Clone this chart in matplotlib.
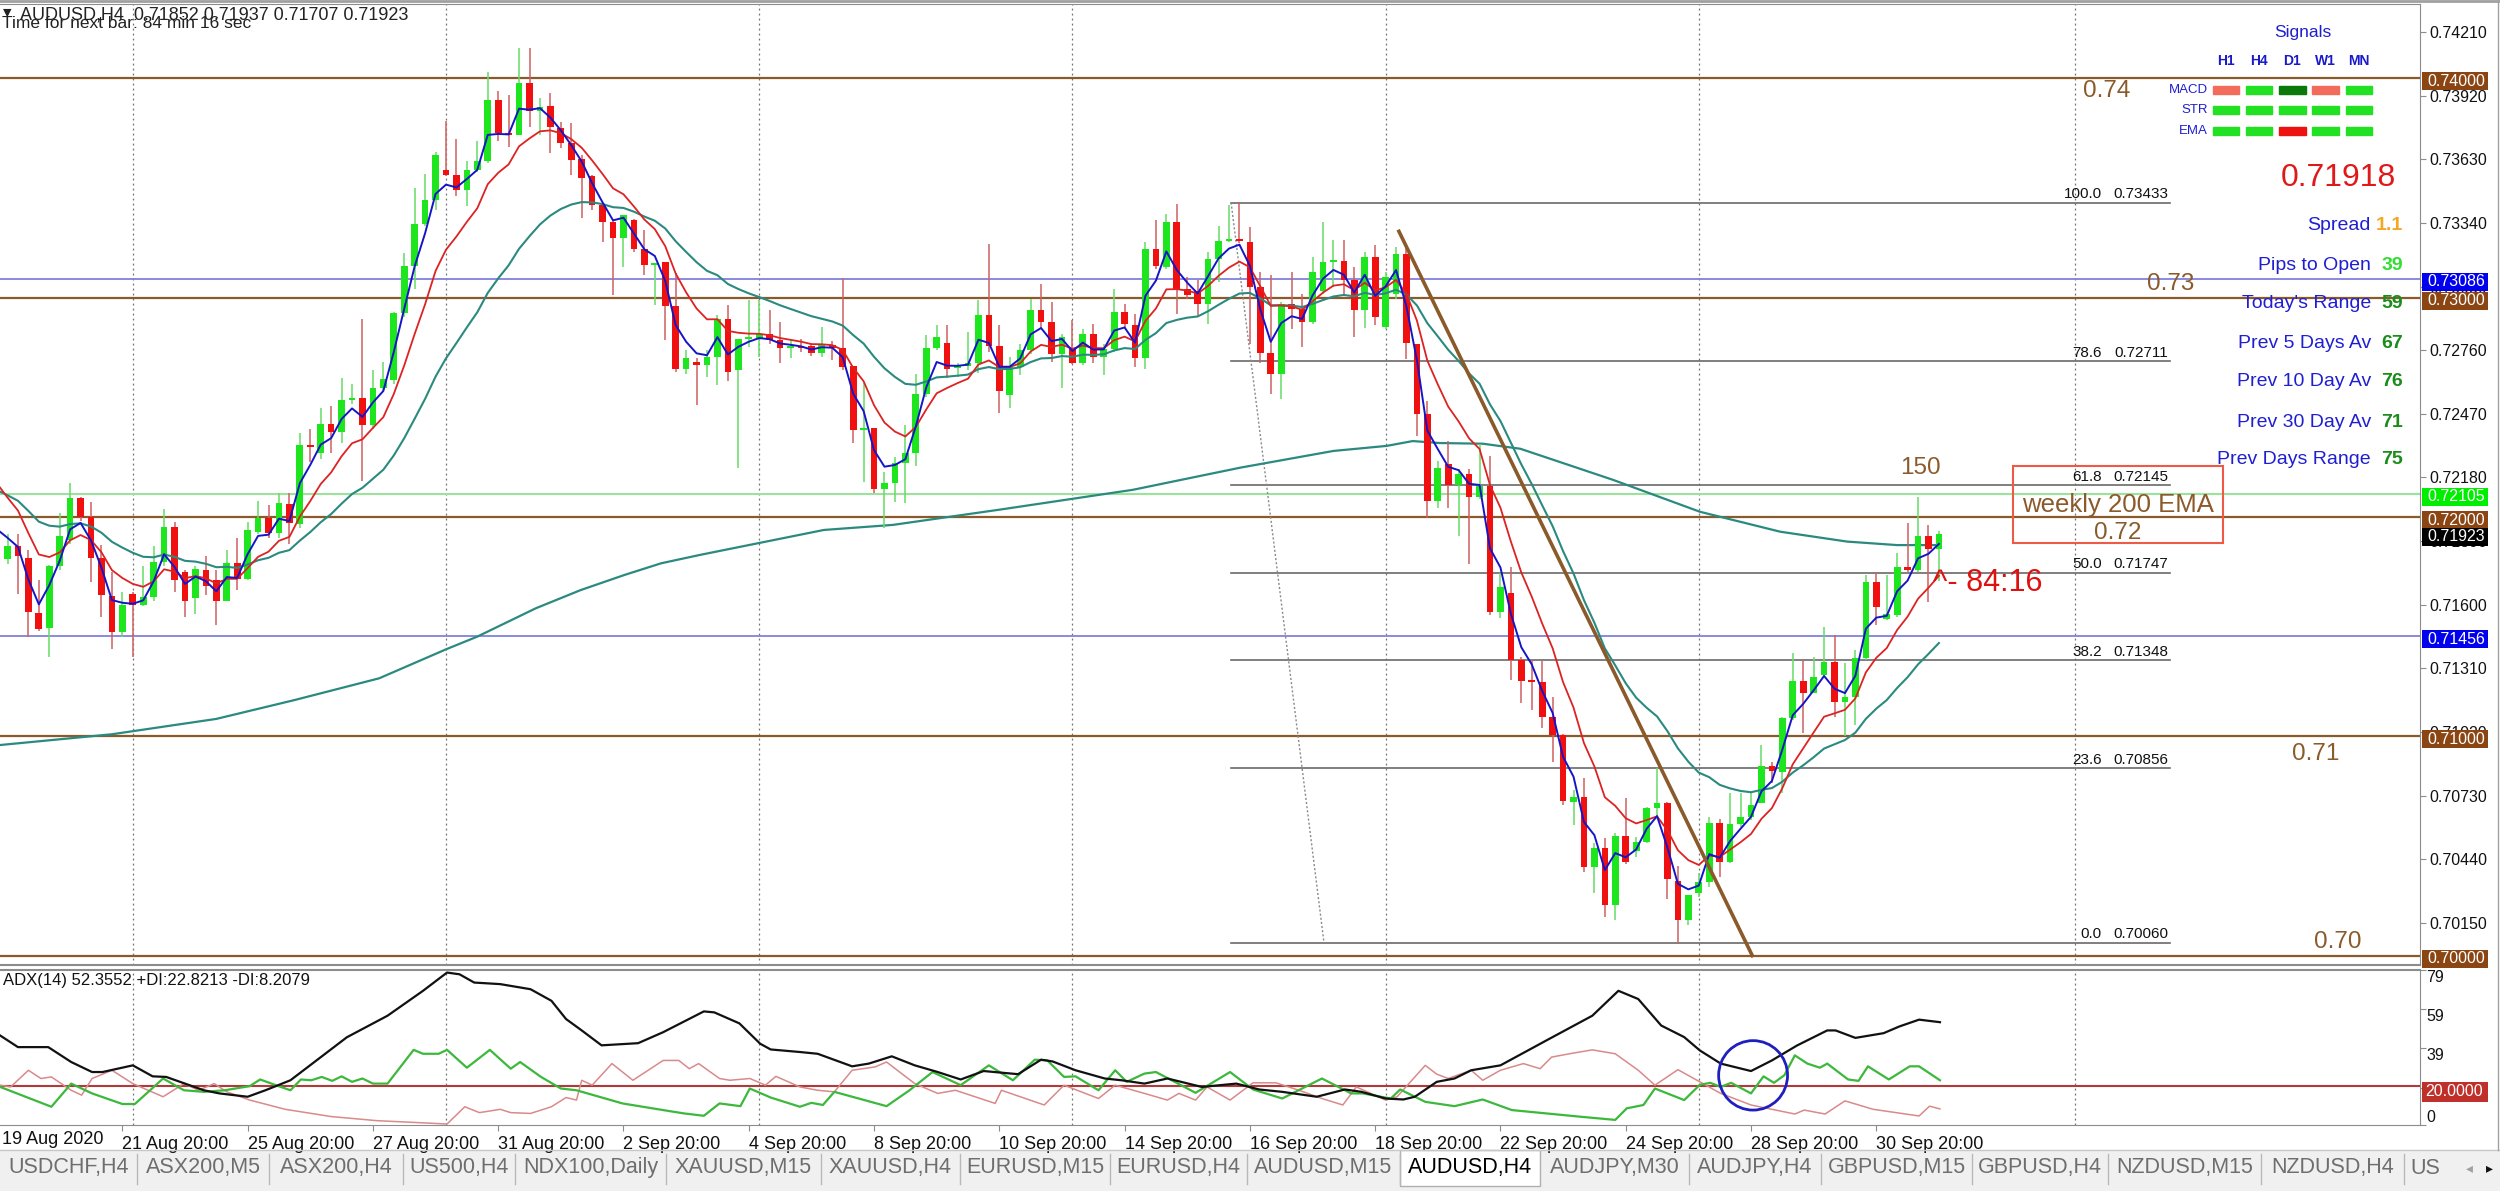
import matplotlib
matplotlib.use('Agg')
import matplotlib.pyplot as plt
from matplotlib.patches import Rectangle, Ellipse
from matplotlib.transforms import blended_transform_factory
from matplotlib import font_manager as fm
import numpy as np

# ---------------- data ----------------
# H4 bars, first one is the partial bar at the left edge (bar index -1)
opens = [0.72290, 0.71809, 0.71867, 0.71813, 0.71561, 0.71492, 0.71777, 0.71894, 0.72087, 0.72002,
         0.71813, 0.71642, 0.71474, 0.71651, 0.71600, 0.71636, 0.71795, 0.71953, 0.71750, 0.71629,
         0.71759, 0.71714, 0.71618, 0.71791, 0.71719, 0.71930, 0.71997, 0.71925, 0.72061, 0.71966,
         0.72326, 0.72290, 0.72422, 0.72389, 0.72534, 0.72543, 0.72417, 0.72588, 0.72624, 0.72930,
         0.73146, 0.73336, 0.73444, 0.73583, 0.73557, 0.73489, 0.73579, 0.73624, 0.73900, 0.73750,
         0.73741, 0.73978, 0.73851, 0.73872, 0.73772, 0.73704, 0.73631, 0.73554, 0.73422, 0.73346,
         0.73270, 0.73354, 0.73220, 0.73148, 0.73164, 0.72962, 0.72673, 0.72705, 0.72693, 0.72728,
         0.72902, 0.72670, 0.72810, 0.72810, 0.72832, 0.72805, 0.72771, 0.72780, 0.72780, 0.72749,
         0.72784, 0.72769, 0.72690, 0.72396, 0.72404, 0.72126, 0.72154, 0.72245, 0.72290, 0.72561,
         0.72769, 0.72792, 0.72678, 0.72688, 0.72700, 0.72921, 0.72779, 0.72556, 0.72685, 0.72760,
         0.72942, 0.72890, 0.72742, 0.72769, 0.72701, 0.72833, 0.72731, 0.72765, 0.72935, 0.72874,
         0.72724, 0.73223, 0.73139, 0.73343, 0.73041, 0.73032, 0.72969, 0.73177, 0.73259, 0.73268,
         0.73252, 0.73048, 0.72747, 0.72651, 0.72969, 0.72946, 0.72890, 0.73032, 0.73162, 0.73166,
         0.73082, 0.72942, 0.73184, 0.72867, 0.73014, 0.73200, 0.72787, 0.72470, 0.72073, 0.72243,
         0.72148, 0.72198, 0.72089, 0.72141, 0.71568, 0.71652, 0.71348, 0.71254, 0.71250, 0.71087,
         0.71007, 0.70703, 0.70726, 0.70404, 0.70490, 0.70232, 0.70546, 0.70480, 0.70521, 0.70673,
         0.70695, 0.70343, 0.70164, 0.70288, 0.70338, 0.70607, 0.70430, 0.70601, 0.70635, 0.70699,
         0.70866, 0.70840, 0.71083, 0.71254, 0.71200, 0.71280, 0.71341, 0.71159, 0.71178, 0.71356,
         0.71705, 0.71534, 0.71553, 0.71774, 0.71759, 0.71913, 0.71852]
highs = [0.72300, 0.71921, 0.71921, 0.71849, 0.71714, 0.71780, 0.72020, 0.72155, 0.72090, 0.72069,
         0.71871, 0.71750, 0.71660, 0.71660, 0.71777, 0.71867, 0.72038, 0.71979, 0.71760, 0.71777,
         0.71822, 0.71759, 0.71849, 0.71906, 0.71979, 0.72074, 0.72056, 0.72110, 0.72110, 0.72381,
         0.72399, 0.72498, 0.72507, 0.72633, 0.72606, 0.72903, 0.72669, 0.72705, 0.72935, 0.73201,
         0.73498, 0.73561, 0.73665, 0.73804, 0.73723, 0.73624, 0.73714, 0.74029, 0.73939, 0.73921,
         0.74137, 0.74137, 0.73909, 0.73932, 0.73800, 0.73795, 0.73650, 0.73560, 0.73430, 0.73350,
         0.73376, 0.73360, 0.73308, 0.73159, 0.73164, 0.73110, 0.72761, 0.72723, 0.72761, 0.72920,
         0.72966, 0.72810, 0.72989, 0.72989, 0.72944, 0.72890, 0.72805, 0.72810, 0.72790, 0.72867,
         0.72800, 0.73088, 0.72690, 0.72609, 0.72404, 0.72207, 0.72275, 0.72419, 0.72652, 0.72830,
         0.72875, 0.72875, 0.72700, 0.72845, 0.72989, 0.73244, 0.72875, 0.72731, 0.72787, 0.72992,
         0.73060, 0.72981, 0.72833, 0.72896, 0.72855, 0.72878, 0.72790, 0.73037, 0.72969, 0.72924,
         0.73252, 0.73354, 0.73381, 0.73427, 0.73094, 0.73082, 0.73207, 0.73327, 0.73420, 0.73433,
         0.73320, 0.73116, 0.73105, 0.72981, 0.73116, 0.73014, 0.73184, 0.73343, 0.73264, 0.73264,
         0.73139, 0.73207, 0.73241, 0.73116, 0.73230, 0.73241, 0.72790, 0.72527, 0.72255, 0.72345,
         0.72220, 0.72220, 0.72334, 0.72277, 0.71743, 0.71774, 0.71364, 0.71348, 0.71348, 0.71181,
         0.71010, 0.70756, 0.70809, 0.70513, 0.70536, 0.70559, 0.70718, 0.70540, 0.70680, 0.70855,
         0.70703, 0.70410, 0.70278, 0.70376, 0.70635, 0.70622, 0.70741, 0.70741, 0.70741, 0.70961,
         0.70885, 0.71090, 0.71379, 0.71348, 0.71364, 0.71500, 0.71462, 0.71333, 0.71394, 0.71736,
         0.71751, 0.71736, 0.71835, 0.71971, 0.72093, 0.71963, 0.71937]
lows = [0.71780, 0.71786, 0.71651, 0.71452, 0.71480, 0.71362, 0.71759, 0.71876, 0.71984, 0.71705,
        0.71543, 0.71398, 0.71453, 0.71362, 0.71593, 0.71615, 0.71777, 0.71660, 0.71543, 0.71557,
        0.71645, 0.71507, 0.71615, 0.71669, 0.71714, 0.71921, 0.71903, 0.71903, 0.71876, 0.71948,
        0.72249, 0.72263, 0.72290, 0.72335, 0.72516, 0.72164, 0.72399, 0.72570, 0.72606, 0.72912,
        0.73038, 0.73327, 0.73399, 0.73552, 0.73462, 0.73417, 0.73570, 0.73615, 0.73714, 0.73687,
        0.73741, 0.73777, 0.73741, 0.73659, 0.73680, 0.73560, 0.73361, 0.73399, 0.73255, 0.73012,
        0.73141, 0.73209, 0.73103, 0.72966, 0.72807, 0.72662, 0.72652, 0.72510, 0.72640, 0.72602,
        0.72621, 0.72222, 0.72776, 0.72731, 0.72787, 0.72700, 0.72723, 0.72750, 0.72735, 0.72731,
        0.72716, 0.72670, 0.72336, 0.72161, 0.72108, 0.71950, 0.72070, 0.72062, 0.72233, 0.72548,
        0.72761, 0.72632, 0.72640, 0.72670, 0.72655, 0.72754, 0.72472, 0.72497, 0.72647, 0.72742,
        0.72855, 0.72708, 0.72588, 0.72697, 0.72692, 0.72701, 0.72647, 0.72753, 0.72855, 0.72685,
        0.72674, 0.73128, 0.73128, 0.72923, 0.72992, 0.72912, 0.72878, 0.73071, 0.73252, 0.73250,
        0.72787, 0.72701, 0.72561, 0.72538, 0.72855, 0.72776, 0.72878, 0.73014, 0.73050, 0.73014,
        0.72821, 0.72860, 0.72874, 0.72855, 0.72992, 0.72720, 0.72368, 0.71994, 0.72040, 0.72040,
        0.71915, 0.71785, 0.72080, 0.71552, 0.71541, 0.71257, 0.71154, 0.71121, 0.71037, 0.70885,
        0.70688, 0.70597, 0.70384, 0.70285, 0.70179, 0.70164, 0.70420, 0.70450, 0.70513, 0.70635,
        0.70258, 0.70060, 0.70141, 0.70270, 0.70316, 0.70361, 0.70422, 0.70589, 0.70619, 0.70695,
        0.70787, 0.70741, 0.71076, 0.71014, 0.71197, 0.71272, 0.71090, 0.71000, 0.71052, 0.71348,
        0.71508, 0.71530, 0.71546, 0.71751, 0.71751, 0.71614, 0.71707]
closes = [0.71795, 0.71867, 0.71822, 0.71566, 0.71489, 0.71777, 0.71912, 0.72087, 0.72002, 0.71813,
          0.71645, 0.71474, 0.71597, 0.71600, 0.71636, 0.71795, 0.71953, 0.71714, 0.71618, 0.71762,
          0.71687, 0.71615, 0.71791, 0.71719, 0.71939, 0.71997, 0.71925, 0.72065, 0.71971, 0.72326,
          0.72321, 0.72422, 0.72389, 0.72534, 0.72543, 0.72417, 0.72588, 0.72627, 0.72930, 0.73146,
          0.73336, 0.73444, 0.73651, 0.73557, 0.73489, 0.73579, 0.73624, 0.73900, 0.73750, 0.73741,
          0.73978, 0.73851, 0.73870, 0.73777, 0.73704, 0.73627, 0.73545, 0.73422, 0.73346, 0.73270,
          0.73376, 0.73220, 0.73148, 0.73159, 0.72962, 0.72673, 0.72723, 0.72693, 0.72728, 0.72902,
          0.72662, 0.72810, 0.72822, 0.72832, 0.72805, 0.72771, 0.72779, 0.72770, 0.72749, 0.72784,
          0.72769, 0.72685, 0.72396, 0.72404, 0.72126, 0.72154, 0.72245, 0.72290, 0.72561, 0.72769,
          0.72822, 0.72673, 0.72688, 0.72700, 0.72921, 0.72779, 0.72576, 0.72685, 0.72760, 0.72942,
          0.72890, 0.72742, 0.72821, 0.72701, 0.72833, 0.72731, 0.72765, 0.72935, 0.72878, 0.72724,
          0.73223, 0.73146, 0.73343, 0.73041, 0.73010, 0.72969, 0.73177, 0.73259, 0.73268, 0.73259,
          0.73048, 0.72747, 0.72651, 0.72969, 0.72946, 0.72890, 0.73116, 0.73162, 0.73166, 0.73082,
          0.72942, 0.73184, 0.72912, 0.73094, 0.73200, 0.72792, 0.72470, 0.72073, 0.72225, 0.72148,
          0.72198, 0.72089, 0.72141, 0.71568, 0.71683, 0.71348, 0.71254, 0.71250, 0.71087, 0.71007,
          0.70707, 0.70726, 0.70404, 0.70490, 0.70232, 0.70546, 0.70430, 0.70521, 0.70673, 0.70695,
          0.70349, 0.70164, 0.70278, 0.70338, 0.70607, 0.70430, 0.70601, 0.70635, 0.70688, 0.70866,
          0.70844, 0.71083, 0.71254, 0.71200, 0.71272, 0.71341, 0.71159, 0.71178, 0.71356, 0.71705,
          0.71592, 0.71558, 0.71774, 0.71759, 0.71913, 0.71853, 0.71923]

# slow (200) moving average, read as points: bar index / price
ma200_bars = [-0.7, 10, 20, 27.5, 35.6, 42.0, 45.0, 50.6, 54.9, 59.1, 62.6, 66.3, 78.2, 84.8, 95.1,
              107.8, 118.1, 127.0, 132.1, 134.6, 137.2, 141.3, 144.9, 148.1, 153.8, 162.1, 169.8,
              176.2, 181.0, 185.0]
ma200_vals = [0.70961, 0.71010, 0.71080, 0.71166, 0.71265, 0.71397, 0.71455, 0.71584, 0.71667,
              0.71736, 0.71789, 0.71827, 0.71941, 0.71964, 0.72034, 0.72124, 0.72225, 0.72301,
              0.72324, 0.72346, 0.72337, 0.72334, 0.72311, 0.72260, 0.72169, 0.72024, 0.71933,
              0.71888, 0.71872, 0.71872]

# ADX(14) panel, read as points
adx_bars = [-0.7, 1.0, 3.9, 6.1, 8.1, 9.1, 12.0, 13.9, 15.2, 18.8, 20.3, 23.0, 24.7, 27.1, 32.5,
            36.4, 39.8, 42.1, 43.3, 44.7, 47.2, 50.1, 52.1, 53.5, 55.0, 56.9, 60.4, 62.8, 66.7,
            67.7, 70.1, 72.1, 73.1, 75.9, 77.6, 80.9, 82.5, 84.7, 86.9, 89.1, 91.3, 93.5, 96.8,
            99.0, 100.1, 102.3, 105.1, 106.7, 108.9, 111.1, 114.4, 117.7, 119.9, 122.1, 125.4,
            128.1, 129.7, 132.0, 133.7, 134.8, 136.9, 138.6, 140.2, 143.0, 147.4, 151.8, 154.3,
            156.2, 158.4, 160.6, 162.1, 164.1, 167.0, 169.0, 171.4, 174.3, 175.1, 177.0, 179.7,
            181.2, 183.1, 185.1]
adx_vals = [45.6, 39.7, 39.7, 32.1, 27.0, 27.0, 30.4, 24.8, 24.5, 17.7, 16.1, 14.4, 17.7, 22.8, 44.7,
            55.7, 68.4, 77.7, 76.8, 72.6, 71.8, 69.2, 63.3, 54.0, 48.2, 40.6, 41.7, 47.3, 57.9,
            57.4, 51.8, 41.4, 38.5, 37.2, 36.3, 29.9, 31.3, 35.0, 30.4, 27.0, 23.2, 27.5, 25.9,
            33.3, 32.4, 27.9, 23.7, 22.8, 21.1, 23.7, 19.4, 21.1, 18.1, 16.9, 14.4,
            18.1, 16.9, 13.5, 13.0, 14.4, 22.0, 23.7, 27.9, 30.4, 43.1, 55.7, 68.4,
            64.2, 50.7, 44.8, 38.0, 31.3, 27.5, 32.9, 40.5, 48.2, 48.2, 44.4, 46.8,
            50.2, 53.7, 52.4]
pdi_bars = [-0.7, 4.2, 6.1, 8.1, 11.0, 12.2, 14.9, 16.9, 18.8, 20.8, 23.2, 24.2, 25.7, 27.1, 28.1,
            29.1, 30.1, 31.1, 32.0, 33.0, 34.0, 35.0, 36.4, 38.9, 39.8, 41.3, 42.1, 44.0, 46.2,
            48.2, 49.1, 51.1, 53.0, 54.5, 58.9, 62.8, 64.8, 66.7, 68.2, 70.2, 71.1, 73.1, 75.9,
            77.0, 78.1, 79.2, 84.2, 86.4, 88.6, 91.3, 94.0, 96.3, 98.4, 99.6, 101.2, 102.3, 104.5,
            106.1, 107.2, 108.9, 110.0, 113.8, 117.1, 119.3, 122.1, 125.9, 128.7, 129.8, 132.5,
            133.4, 135.8, 138.6, 141.3, 144.1, 147.4, 150.7, 154.0, 155.1, 156.7, 157.8, 160.6,
            162.1, 163.1, 164.1, 165.1, 167.0, 168.2, 169.2, 170.2, 171.2, 172.4, 173.6, 174.3,
            176.3, 177.3, 178.2, 180.2, 182.2, 183.1, 185.1]
pdi_vals = [19.4, 9.3, 21.1, 16.1, 10.7, 10.7, 23.7, 17.7, 16.9, 17.7, 19.8, 23.2, 20.3, 17.7, 23.2,
            22.8, 24.5, 22.5, 24.8, 22.0, 23.7, 21.1, 21.1, 38.3, 36.3, 36.3, 38.3, 29.2, 38.3,
            28.7, 32.1, 24.5, 18.6, 17.7, 11.0, 7.6, 5.9, 4.7, 11.0, 9.6, 18.6, 14.0, 9.3,
            11.3, 10.2, 16.9, 9.6, 17.7, 27.0, 20.3, 30.4, 22.8, 33.3, 32.9, 24.5, 24.8, 17.7,
            27.9, 22.0, 26.2, 27.0, 16.4, 27.0, 18.1, 13.5, 23.7, 16.1, 16.1, 13.5,
            18.1, 11.8, 9.6, 13.0, 7.6, 5.9, 4.2, 2.6, 8.5, 10.2, 18.6, 12.7,
            20.5, 21.5, 19.4, 21.5, 16.1, 24.8, 21.5, 25.4, 35.5, 31.3, 29.2, 31.3,
            23.2, 22.5, 29.9, 23.2, 29.9, 29.9, 22.8]
mdi_bars = [-0.7, 0.3, 2.0, 3.2, 4.2, 6.1, 7.1, 8.1, 10.0, 12.0, 14.9, 16.9, 18.3, 19.8, 21.0, 23.2,
            26.6, 31.0, 35.4, 39.4, 42.1, 43.8, 45.2, 47.2, 48.2, 50.1, 52.1, 53.5, 54.5, 55.0,
            56.0, 57.9, 59.9, 62.8, 64.3, 65.3, 66.2, 68.2, 69.2, 71.1, 72.6, 73.6, 75.9, 77.6,
            79.2, 80.9, 83.1, 84.2, 86.9, 89.1, 90.8, 94.6, 95.2, 99.3, 101.2, 104.5, 106.1, 108.9,
            111.1, 112.2, 113.8, 114.9, 117.1, 119.3, 121.5, 123.7, 125.9, 127.9, 129.2, 132.0,
            133.1, 135.8, 136.9, 138.0, 140.2, 141.3, 143.0, 145.2, 146.8, 147.9, 149.6, 151.8,
            154.0, 156.2, 157.8, 160.0, 162.1, 164.1, 167.0, 169.0, 171.2, 172.1, 174.1, 176.0,
            178.7, 183.1, 184.1, 185.1]
mdi_vals = [20.3, 19.4, 27.9, 23.7, 24.5, 17.7, 15.2, 23.7, 27.9, 21.1, 14.4, 21.1, 17.7, 21.1, 16.9, 12.7,
            8.0, 4.3, 2.2, 1.2, 0.5, 9.3, 6.3, 8.0, 6.3, 5.9, 9.3, 14.0, 12.7, 22.8,
            20.3, 31.3, 22.8, 32.9, 32.9, 28.7, 31.3, 23.7, 22.8, 23.7, 20.3, 24.8, 19.4, 17.7,
            16.9, 27.9, 29.6, 32.1, 21.1, 16.1, 17.7, 11.0, 17.7, 10.2, 20.3, 13.5, 20.3, 16.1,
            12.7, 16.1, 12.7, 19.4, 12.7, 21.5, 21.5, 17.7, 13.5, 10.2, 19.4, 12.7,
            14.4, 30.4, 25.9, 23.7, 27.9, 22.8, 27.9, 31.3, 28.7, 34.6, 36.3, 38.3,
            36.3, 27.9, 20.3, 28.2, 22.0, 16.1, 10.2, 8.0, 5.6, 7.6, 5.6, 12.3,
            8.0, 4.6, 9.6, 8.2]

price_ticks = [0.74210, 0.73920, 0.73630, 0.73340, 0.73050, 0.72760, 0.72470, 0.72180,
               0.71890, 0.71600, 0.71310, 0.71020, 0.70730, 0.70440, 0.70150]
round_levels = [0.74, 0.73, 0.72, 0.71, 0.70]
blue_levels = [0.73086, 0.71456]
ema_level = 0.72105
fib_pcts = ['100.0', '78.6', '61.8', '50.0', '38.2', '23.6', '0.0']
fib_prices = [0.73433, 0.72711, 0.72145, 0.71747, 0.71348, 0.70856, 0.70060]
fib_span = [117.2, 207.1]
fib_base = ([117.2, 126.1], [0.73433, 0.70060])
trend_line = ([133.2, 167.2], [0.73309, 0.69994])
week_starts = [12, 42, 72, 102, 132, 162, 198]
date_bars = [11, 23, 35, 47, 59, 71, 83, 95, 107, 119, 131, 143, 155, 167, 179]
date_labels = ['21 Aug 20:00', '25 Aug 20:00', '27 Aug 20:00', '31 Aug 20:00', '2 Sep 20:00',
               '4 Sep 20:00', '8 Sep 20:00', '10 Sep 20:00', '14 Sep 20:00', '16 Sep 20:00',
               '18 Sep 20:00', '22 Sep 20:00', '24 Sep 20:00', '28 Sep 20:00', '30 Sep 20:00']
adx_ticks = [79, 59, 39, 19, 0]
adx_level = 20
tabs = ['USDCHF,H4', 'ASX200,M5', 'ASX200,H4', 'US500,H4', 'NDX100,Daily', 'XAUUSD,M15',
        'XAUUSD,H4', 'EURUSD,M15', 'EURUSD,H4', 'AUDUSD,M15', 'AUDUSD,H4', 'AUDJPY,M30',
        'AUDJPY,H4', 'GBPUSD,M15', 'GBPUSD,H4', 'NZDUSD,M15', 'NZDUSD,H4']
tab_edges = [0, 137, 269, 403, 515, 666, 821, 960, 1110, 1247, 1400, 1540, 1689, 1821, 1972,
             2108, 2261, 2404]
active_tab = 'AUDUSD,H4'
signal_rows = ['MACD', 'STR', 'EMA']
signal_cols = ['H1', 'H4', 'D1', 'W1', 'MN']
signal_colors = [['#f26b5b', '#22e022', '#0b7a0b', '#f26b5b', '#22e022'],
                 ['#22e022'] * 5,
                 ['#22e022', '#22e022', '#ee1111', '#22e022', '#22e022']]
stats = [('Spread', '1.1', '#f5a623'), ('Pips to Open', '39', '#33dd33'),
         ("Today's Range", '59', '#1a8c1a'), ('Prev 5 Days Av', '67', '#1a8c1a'),
         ('Prev 10 Day Av', '76', '#1a8c1a'), ('Prev 30 Day Av', '71', '#1a8c1a'),
         ('Prev Days Range', '75', '#1a8c1a')]

# ---------------- figure ----------------
names = {f.name for f in fm.fontManager.ttflist}
NARROW = 'Liberation Sans Narrow' if 'Liberation Sans Narrow' in names else 'Liberation Sans'
plt.rcParams['font.family'] = ['Liberation Sans', 'DejaVu Sans']

W, H = 2500, 1191
fig = plt.figure(figsize=(25, 11.91), dpi=100)


def fx(x):
    return x / W


def fy(y):
    return 1 - y / H


def T(x, y, s, **kw):
    kw.setdefault('va', 'center')
    return fig.text(fx(x), fy(y), s, **kw)


RIGHT = 2420
ax = fig.add_axes([0, fy(965), RIGHT / W, (965 - 4) / H])
ax2 = fig.add_axes([0, fy(1125), RIGHT / W, (1125 - 970) / H])

xmin, xmax = -0.72, 231.08
ax.set_xlim(xmin, xmax)
ax2.set_xlim(xmin, xmax)
ax.set_ylim(0.699586, 0.743376)
ax2.set_ylim(0, 78.5)

o = np.array(opens)
h = np.array(highs)
l = np.array(lows)
c = np.array(closes)
x = np.arange(len(c)) - 1
up = c >= o
dn = ~up

# week separators (dotted) in both panels
for a in (ax, ax2):
    for k in week_starts:
        a.axvline(k, color='#707070', lw=0.9, ls=(0, (1.5, 2.5)), zorder=1)

# horizontal levels
for p in round_levels:
    ax.axhline(p, color='#8b5a2b', lw=1.6, zorder=1)
for p in blue_levels:
    ax.axhline(p, color='#8080dd', lw=1.3, zorder=1)
ax.axhline(ema_level, color='#9be39b', lw=1.5, zorder=1)

# fibonacci
for pct, p in zip(fib_pcts, fib_prices):
    ax.plot(fib_span, [p, p], color='#6a6a6a', lw=1.2, zorder=1.5)
    ax.annotate(f'{p:.5f}', xy=(fib_span[1], p), xytext=(-1, 1), textcoords='offset points',
                ha='right', va='bottom', fontsize=11, color='#111111')
    ax.annotate(pct, xy=(fib_span[1], p), xytext=(-49, 1), textcoords='offset points',
                ha='right', va='bottom', fontsize=11, color='#111111')
ax.plot(*fib_base, color='#8a8a8a', lw=1.0, ls=(0, (1.5, 1.5)), zorder=1.5)

# slow MA
ax.plot(ma200_bars, ma200_vals, color='#2b8a80', lw=1.6, zorder=2)

# candles
ax.vlines(x[up], l[up], h[up], color='#66dd66', lw=1.1, zorder=3)
ax.vlines(x[dn], l[dn], h[dn], color='#d06060', lw=1.1, zorder=3)
mind = 0.00007
ax.bar(x[up], np.maximum(c[up] - o[up], mind), bottom=o[up], width=0.64, color='#1ee61e',
       linewidth=0, zorder=3.2)
ax.bar(x[dn], np.maximum(o[dn] - c[dn], mind), bottom=c[dn], width=0.64, color='#f01010',
       linewidth=0, zorder=3.2)


def ema(vals, span, seed):
    a = 2.0 / (span + 1)
    out, prev = [], seed
    for v in vals:
        prev = prev + a * (v - prev)
        out.append(prev)
    return out


ax.plot(x, ema(closes, 21, 0.72155), color='#2b8a80', lw=1.5, zorder=3.5)
ax.plot(x, ema(closes, 8, 0.72254), color='#dd2222', lw=1.3, zorder=3.6)
ax.plot(x, ema(closes, 3, 0.72092), color='#1515c8', lw=1.4, zorder=3.7)

# brown trend line
ax.plot(*trend_line, color='#8b5a2b', lw=2.6, zorder=4, solid_capstyle='butt')

# weekly 200 EMA box
ax.add_patch(Rectangle((192.1, 0.71882), 20.1, 0.00350, fill=False, ec='#ee5a45', lw=1.5,
                       zorder=4, clip_on=False))

# axes cosmetics
for a in (ax, ax2):
    for s in ('left',):
        a.spines[s].set_visible(False)
    for s in ('right', 'top', 'bottom'):
        a.spines[s].set_color('#8c8c8c')
    a.set_xticks([])
ax.spines['bottom'].set_linewidth(1.5)
ax2.spines['top'].set_linewidth(1.5)
ax.yaxis.tick_right()
ax.set_yticks(price_ticks)
ax.set_yticklabels([f'{p:.5f}' for p in price_ticks])
ax.tick_params(axis='y', length=4, pad=3, labelsize=11.5, colors='#8c8c8c', labelcolor='#111111')

# axis label boxes
btr = blended_transform_factory(ax.transAxes, ax.transData)
boxes = [(0.74000, '#8b4513'), (0.73086, '#0000ee'), (0.73000, '#8b4513'), (0.72105, '#00ee00'),
         (0.72000, '#8b4513'), (0.71923, '#000000'), (0.71456, '#0000ee'), (0.71000, '#8b4513'),
         (0.70000, '#8b4513')]
dpx = (0.743376 - 0.699586) / 961.0
for p, col in boxes:
    yc = p - 3 * dpx
    ax.add_patch(Rectangle((1.0008, yc - 9 * dpx), 66 / RIGHT, 18 * dpx, transform=btr,
                           facecolor=col, edgecolor='none', clip_on=False, zorder=6))
    ax.text(2427 / RIGHT, yc, f'{p:.5f}', transform=btr, ha='left', va='center',
            fontsize=11.5, color='white', clip_on=False, zorder=7)

# ADX panel
ax2.axhline(adx_level, color='#b03a3a', lw=1.5, zorder=2)
ax2.plot(mdi_bars, mdi_vals, color='#d98a8a', lw=1.1, zorder=3)
ax2.plot(pdi_bars, pdi_vals, color='#3cb83c', lw=1.6, zorder=3.2)
ax2.plot(adx_bars, adx_vals, color='#111111', lw=1.6, zorder=3.4)
ax2.add_patch(Ellipse((167.2, 25.3), 6.6, 35.4, fill=False, ec='#1f1fbf', lw=2.0, zorder=5))
ax2.set_yticks(adx_ticks)
ax2.yaxis.tick_right()
ax2.tick_params(axis='y', length=4, colors='#8c8c8c', labelright=False)
btr2 = blended_transform_factory(ax2.transAxes, ax2.transData)
for v in adx_ticks:
    ax2.text(2426 / RIGHT, v, str(v), transform=btr2, ha='left',
             va='bottom' if v == 0 else 'top', fontsize=11.5, color='#111111', clip_on=False)
dpa = 78.5 / 155.0
ax2.add_patch(Rectangle((1.0008, adx_level - 16 * dpa), 66 / RIGHT, 20 * dpa, transform=btr2,
                        facecolor='#c0302b', edgecolor='none', clip_on=False, zorder=6))
ax2.text(2425 / RIGHT, adx_level - 6 * dpa, f'{adx_level:.4f}', transform=btr2, ha='left',
         va='center', fontsize=11.5, color='white', clip_on=False, zorder=7)
ax2.set_xticks(date_bars)
ax2.set_xticklabels(date_labels, fontsize=13, family=NARROW, color='#111111')
for lab in ax2.get_xticklabels():
    lab.set_horizontalalignment('left')
ax2.tick_params(axis='x', length=4, pad=4, colors='#8c8c8c', labelcolor='#111111')
T(2, 1140, '19 Aug 2020', fontsize=13, family=NARROW, color='#111111')
T(3, 981, f'ADX(14) {adx_vals[-1] - 0.0448:.4f} +DI:22.8213 -DI:8.2079', fontsize=12,
  family=NARROW, color='#111111')

# header
T(3, 13, '\u25BC', fontsize=8, family='DejaVu Sans', color='#222222')
T(20, 15, f'AUDUSD,H4  {opens[-1]:.5f} {highs[-1]:.5f} {lows[-1]:.5f} {closes[-1]:.5f}',
  fontsize=13, family=NARROW, color='#222222')
T(2, 23, 'Time for next bar: 84 min 16 sec', fontsize=12.5, family=NARROW, color='#222222')

# brown annotations
brown = '#8b5a2b'
for s, xx, yy in [('0.74', 2107, 91), ('0.73', 2171, 284), ('150', 1920, 468), ('0.72', 2118, 533),
                  ('0.71', 2316, 754), ('0.70', 2338, 942)]:
    T(xx, yy, s, fontsize=17.5, color=brown, ha='center')
T(2118, 505, 'weekly 200 EMA', fontsize=18.5, color=brown, ha='center')
T(1933, 583, '^- 84:16', fontsize=22, color='#e01010', ha='left')

# info panel
blue = '#1f1fd1'
T(2303, 32, 'Signals', fontsize=12.5, color=blue, ha='center')
col_x = [(2213, 2239), (2246, 2272), (2279, 2306), (2312, 2339), (2346, 2372)]
for name, (x0, x1) in zip(signal_cols, col_x):
    T((x0 + x1) / 2, 61, name, fontsize=10, fontweight='bold', color='#1a1acc', ha='center')
for r, (name, yc) in enumerate(zip(signal_rows, [90, 110, 131])):
    T(2208, yc, name, fontsize=9.5, color=blue, ha='right')
    for cidx, (x0, x1) in enumerate(col_x):
        fig.add_artist(Rectangle((fx(x0), fy(yc + 4)), (x1 - x0) / W, 8 / H,
                                 transform=fig.transFigure, color=signal_colors[r][cidx]))
T(2396, 178, '0.71918', fontsize=23, color='#e01818', ha='right')
for i, (lab, val, col) in enumerate(stats):
    yc = [225, 265, 304, 343, 382, 422, 460][i]
    T(2371, yc, lab, fontsize=14, color=blue, ha='right')
    T(2403, yc, val, fontsize=14, fontweight='bold', color=col, ha='right')

# window frame and tab bar
fig.add_artist(Rectangle((0, 0), 1, fy(1150), transform=fig.transFigure, color='#f0f0f0', zorder=0))
fig.add_artist(plt.Line2D([0, 1], [fy(1150), fy(1150)], transform=fig.transFigure,
                          color='#c8c8c8', lw=1))
for i, name in enumerate(tabs):
    x0, x1 = tab_edges[i], tab_edges[i + 1]
    if name == active_tab:
        fig.add_artist(Rectangle((fx(x0), fy(1186)), (x1 - x0) / W, 36 / H,
                                 transform=fig.transFigure, facecolor='white',
                                 edgecolor='#b0b0b0', lw=1))
    else:
        fig.add_artist(plt.Line2D([fx(x1), fx(x1)], [fy(1184), fy(1154)],
                                  transform=fig.transFigure, color='#b8b8b8', lw=1))
    T((x0 + x1) / 2, 1168, name, fontsize=15.5, family=NARROW, ha='center',
      color='#000000' if name == active_tab else '#6e6e6e')
T(2410, 1168, 'US', fontsize=15.5, family=NARROW, color='#6e6e6e')
T(2466, 1168, '\u25C2', fontsize=10, family='DejaVu Sans', color='#a0a0a0')
T(2486, 1168, '\u25B8', fontsize=10, family='DejaVu Sans', color='#111111')
fig.add_artist(plt.Line2D([fx(2498), fx(2498)], [fy(0), fy(1150)], transform=fig.transFigure,
                          color='#a0a0a0', lw=1))
fig.add_artist(plt.Line2D([0, 1], [fy(1), fy(1)], transform=fig.transFigure, color='#a0a0a0', lw=2))

fig.savefig('out.png', dpi=100, facecolor='white')
